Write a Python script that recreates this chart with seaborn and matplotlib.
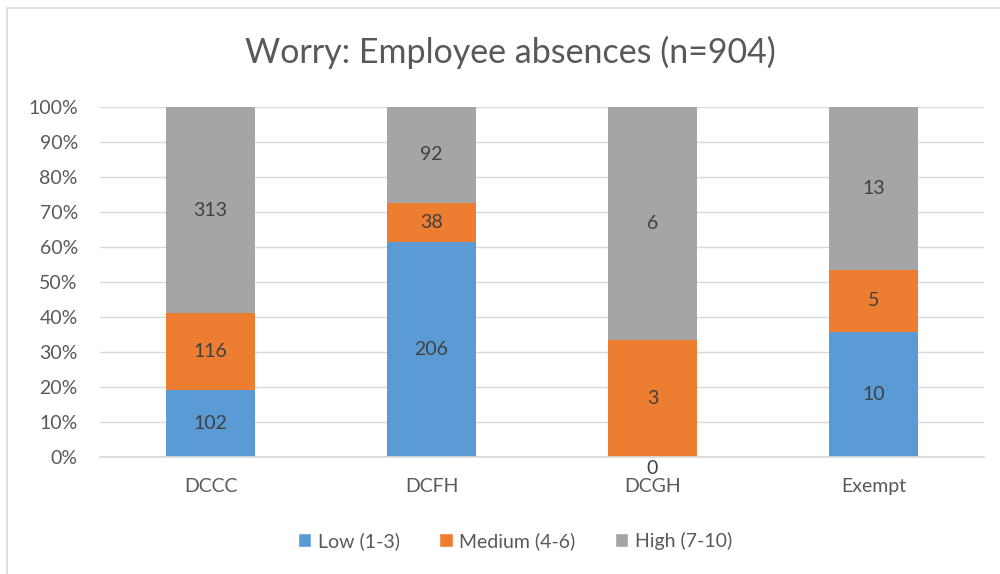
import numpy as np
import pandas as pd
import matplotlib
matplotlib.use('Agg')
import matplotlib.pyplot as plt
import seaborn as sns
from matplotlib.patches import Rectangle, Patch

# --- DADOS ---
groups = ['DCCC', 'DCFH', 'DCGH', 'Exempt']
series = ['Low (1-3)', 'Medium (4-6)', 'High (7-10)']
low = [102, 206, 0, 10]
medium = [116, 38, 3, 5]
high = [313, 92, 6, 13]
colors = ['#5B9BD5', '#ED7D31', '#A5A5A5']
yticks = [0, 10, 20, 30, 40, 50, 60, 70, 80, 90, 100]

text_col = '#595959'

sns.set_theme(style='white')
plt.rcParams['font.family'] = ['Lato', 'DejaVu Sans']

counts = np.array([low, medium, high], dtype=float)
totals = counts.sum(axis=0)
pct = counts / totals * 100

fig = plt.figure(figsize=(10, 5.74), dpi=100)
ax = fig.add_axes([0.1, 0.2038, 0.884, 0.6098])

bottom = np.zeros(len(groups))
for i, name in enumerate(series):
    df = pd.DataFrame({'grupo': groups, 'pct': pct[i]})
    sns.barplot(data=df, x='grupo', y='pct', color=colors[i], bottom=bottom,
                width=0.4, ax=ax, saturation=1, zorder=3, linewidth=0)
    for j in range(len(groups)):
        yc = bottom[j] + pct[i][j] / 2
        off = -8 if pct[i][j] == 0 else 0
        ax.annotate(f'{int(counts[i][j])}', (j, yc), xytext=(0, off),
                    textcoords='offset points', ha='center', va='center',
                    fontsize=14, color='#404040', zorder=5, annotation_clip=False)
    bottom = bottom + pct[i]

ax.set_ylim(0, 100)
ax.set_xlim(-0.5, 3.5)
ax.set_yticks(yticks)
ax.set_yticklabels([f'{t}%' for t in yticks], fontsize=14, color=text_col)
ax.tick_params(axis='x', labelsize=14, colors=text_col, pad=15, length=0)
ax.tick_params(axis='y', length=0, pad=16)
ax.set_xlabel('')
ax.set_ylabel('')
ax.yaxis.grid(True, color='#D9D9D9', linewidth=1, zorder=0)
for s in ['top', 'right', 'left']:
    ax.spines[s].set_visible(False)
ax.spines['bottom'].set_color('#D9D9D9')
ax.spines['bottom'].set_zorder(4)

fig.text(0.51, 1 - 52 / 574, 'Worry: Employee absences (n=904)', ha='center', va='center',
         fontsize=24.5, color=text_col)

handles = [Patch(facecolor=c, label=n) for c, n in zip(colors, series)]
fig.legend(handles=handles, loc='center', bbox_to_anchor=(0.515, 1 - 541 / 574), ncol=3,
           frameon=False, fontsize=14, labelcolor=text_col, handlelength=0.7,
           handleheight=0.7, handletextpad=0.35, columnspacing=2.0)

# borda do gráfico
fig.patches.append(Rectangle((7 / 1000, -0.05), 1.1, 1 - 8 / 574 + 0.05, transform=fig.transFigure,
                             fill=False, edgecolor='#D9D9D9', linewidth=1.2))

fig.savefig('out.png', dpi=100)
plt.close()
